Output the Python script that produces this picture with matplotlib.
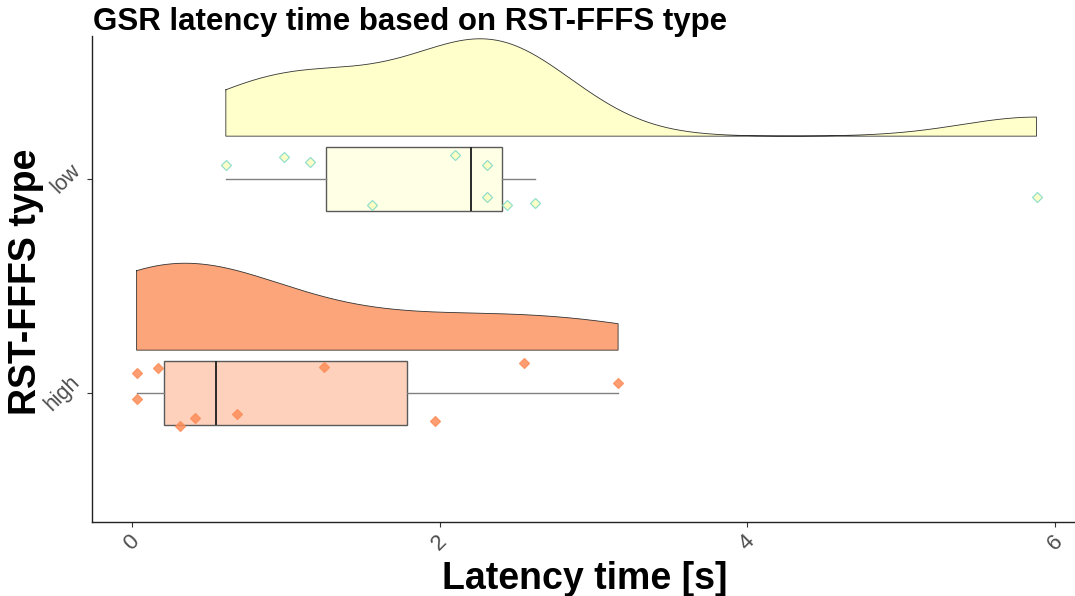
import numpy as np
import matplotlib
matplotlib.use("Agg")
import matplotlib.pyplot as plt

plt.rcParams['font.family'] = ['Liberation Sans', 'DejaVu Sans']

# ---- data ----
groups = ["high", "low"]
high_values = [0.03, 0.17, 0.03, 0.31, 0.41, 0.68, 1.25, 1.97, 2.55, 3.16]
high_jitter = [0.093, 0.117, -0.028, -0.154, -0.117, -0.098, 0.121, -0.131, 0.140, 0.047]
low_values = [0.61, 0.99, 1.16, 2.10, 2.31, 1.56, 2.31, 2.44, 2.62, 5.88]
low_jitter = [0.065, 0.103, 0.079, 0.112, 0.065, -0.121, -0.084, -0.121, -0.112, -0.084]
x_ticks = [0, 2, 4, 6]

base_colors = {"high": "#FC8D59", "low": "#FFFFBF"}
point_edges = {"high": "#FC8D59", "low": "#7FD8C8"}

values = {"high": np.array(high_values), "low": np.array(low_values)}
jitters = {"high": np.array(high_jitter), "low": np.array(low_jitter)}
positions = {"high": 1, "low": 2}


def bw_nrd0(x):
    sd = np.std(x, ddof=1)
    q75, q25 = np.percentile(x, [75, 25])
    lo = min(sd, (q75 - q25) / 1.34)
    return 0.9 * lo * len(x) ** (-0.2)


def kde(x, grid):
    h = bw_nrd0(x)
    z = (grid[:, None] - x[None, :]) / h
    return np.exp(-0.5 * z ** 2).sum(axis=1) / (len(x) * h * np.sqrt(2 * np.pi))


fig = plt.figure(figsize=(10.75, 5.96), dpi=100)
ax = fig.add_axes([92 / 1075, 74 / 596, (1075 - 92) / 1075, 486 / 596])

# densities (flat violins, area scaling)
dens = {}
for g in groups:
    v = values[g]
    grid = np.linspace(v.min(), v.max(), 512)
    dens[g] = (grid, kde(v, grid))
dmax = max(d.max() for _, d in dens.values())
nudge, half_width = 0.2, 0.455
for g in groups:
    grid, d = dens[g]
    base = positions[g] + nudge
    top = base + d / dmax * half_width
    xs = np.concatenate([grid, grid[::-1]])
    ys = np.concatenate([top, np.full_like(grid, base)])
    ax.fill(xs, ys, facecolor=base_colors[g], alpha=0.8, edgecolor='none', zorder=1)
    ax.plot(np.append(xs, xs[0]), np.append(ys, ys[0]), color='#333333', lw=0.6, zorder=2)

# boxplots
for g in groups:
    bp = ax.boxplot([values[g]], positions=[positions[g]], widths=0.3, vert=False,
                    whis=1.5, showfliers=False, showcaps=False, patch_artist=True,
                    manage_ticks=False)
    for b in bp['boxes']:
        b.set_facecolor(matplotlib.colors.to_rgba(base_colors[g], 0.4))
        b.set_edgecolor('#5a5a5a')
        b.set_linewidth(1.0)
        b.set_zorder(3)
    for w in bp['whiskers']:
        w.set_color('#808080')
        w.set_linewidth(1.0)
        w.set_zorder(3)
    for m in bp['medians']:
        m.set_color('#2a2a2a')
        m.set_linewidth(1.4)
        m.set_zorder(4)

# jittered points
for g in groups:
    ax.plot(values[g], positions[g] + jitters[g], linestyle='none', marker='D',
            markersize=5.3, markerfacecolor=base_colors[g], markeredgecolor=point_edges[g],
            markeredgewidth=0.9, alpha=0.85, zorder=5)

ax.set_xlim(-0.26, (1075 - 132) / 153.83)
ax.set_ylim(0.397, 2.668)
ax.set_xticks(x_ticks)
ax.set_xticklabels([str(t) for t in x_ticks], rotation=45, ha='center', va='top',
                   fontsize=16, color='#4D4D4D')
ax.set_yticks([positions[g] for g in groups])
ax.set_yticklabels(groups, rotation=45, ha='right', va='center', fontsize=15.5,
                   color='#4D4D4D')
ax.tick_params(axis='both', length=3.5, width=0.8, color='#333333', pad=3)
ax.tick_params(axis='y', pad=2)
for s in ['top', 'right']:
    ax.spines[s].set_visible(False)
for s in ['left', 'bottom']:
    ax.spines[s].set_linewidth(1.0)
    ax.spines[s].set_color('#222222')

fig.text(93 / 1075, (596 - 30) / 596, "GSR latency time based on RST-FFFS type",
         fontsize=22.5, fontweight='bold', ha='left', va='baseline')
fig.text(585 / 1075, 7 / 596, "Latency time [s]", fontsize=27, fontweight='bold',
         ha='center', va='baseline')
fig.text(26 / 1075, (596 - 282) / 596, "RST-FFFS type", fontsize=27, fontweight='bold',
         ha='center', va='center', rotation=90)

fig.savefig("out.png", dpi=100)
